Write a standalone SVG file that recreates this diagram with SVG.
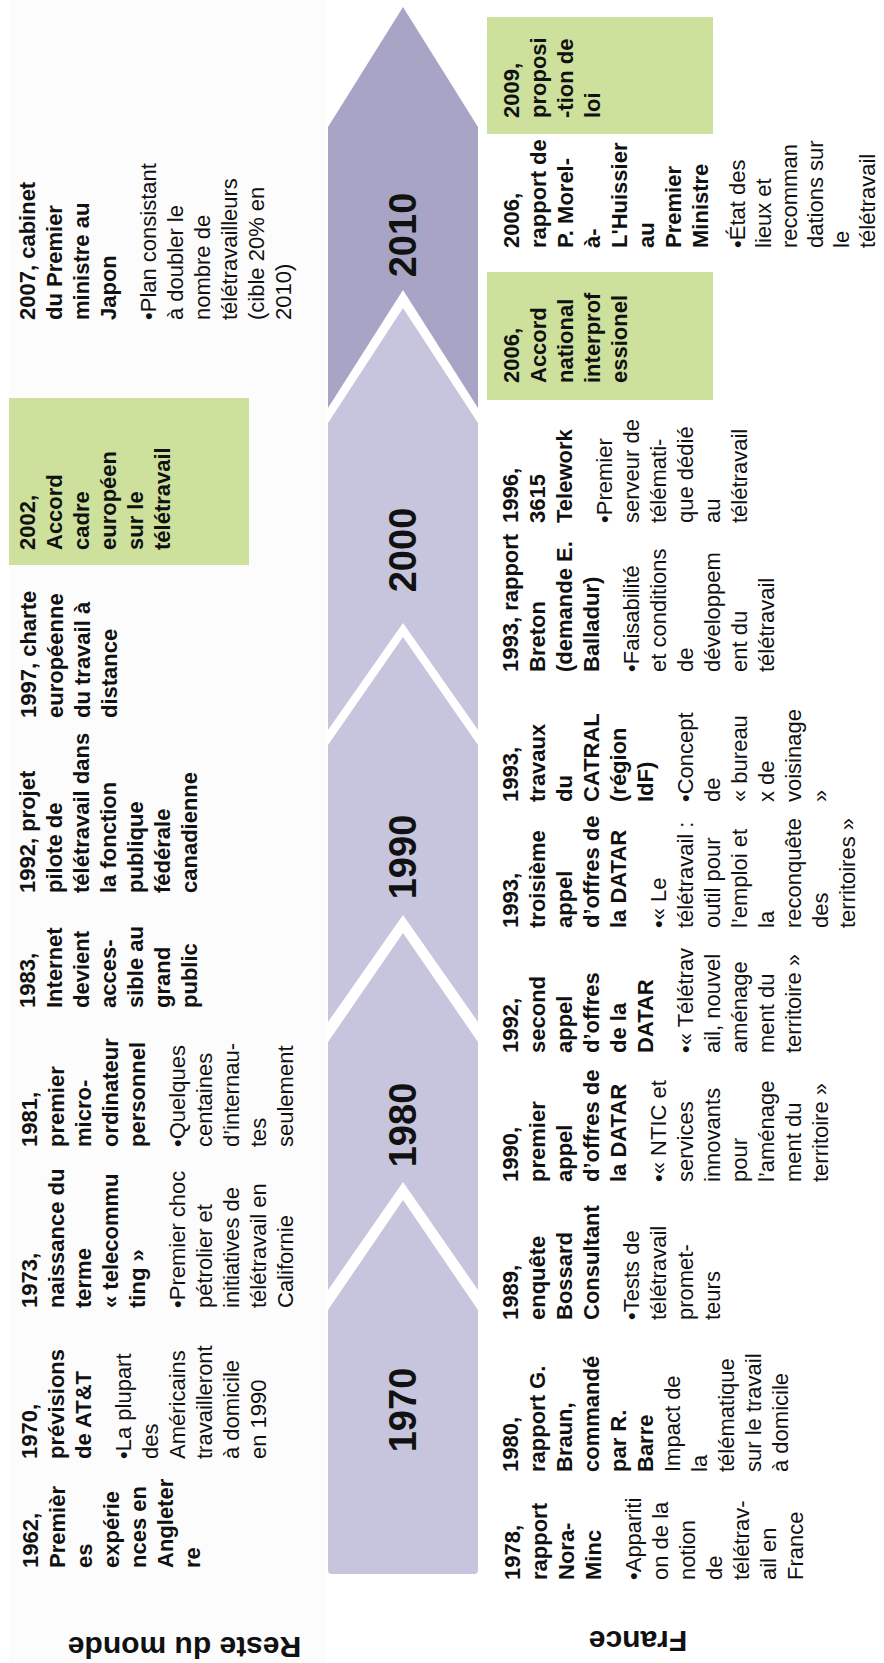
<svg xmlns="http://www.w3.org/2000/svg" width="884" height="1663" viewBox="0 0 884 1663">
<style>
.t{font-family:"Liberation Sans",Arial,sans-serif;font-size:22px;fill:#111}
.b{font-weight:bold}
.r{font-weight:normal}
.yr{font-family:"Liberation Sans",Arial,sans-serif;font-size:38px;font-weight:bold;fill:#111;text-anchor:middle}
.lbl{font-family:"Liberation Sans",Arial,sans-serif;font-size:30px;font-weight:bold;fill:#111;text-anchor:middle}
.seg{fill:#c7c5dd}
.dark{fill:#a8a4c6}
.green{fill:#cde09c}
</style>
<rect x="0" y="0" width="884" height="1663" fill="#ffffff"/>
<rect x="9" y="0" width="317" height="1663" fill="#fcfcfc"/>

<g id="timeline">
<g id="seg-2010"><path class="dark" d="M403,7 L478,127 L478,408 L403,290 L328,408 L328,127 Z"/><text class="yr" transform="translate(416,235) rotate(-90)">2010</text></g>
<g id="seg-2000"><path class="seg" d="M403,308 L478,423 L478,730 L403,623 L328,730 L328,423 Z"/><text class="yr" transform="translate(416,550) rotate(-90)">2000</text></g>
<g id="seg-1990"><path class="seg" d="M403,637 L478,745 L478,1022 L403,915 L328,1022 L328,745 Z"/><text class="yr" transform="translate(416,857) rotate(-90)">1990</text></g>
<g id="seg-1980"><path class="seg" d="M403,933 L478,1042 L478,1290 L403,1182 L328,1290 L328,1042 Z"/><text class="yr" transform="translate(416,1125) rotate(-90)">1980</text></g>
<g id="seg-1970"><path class="seg" d="M403,1200 L478,1310 L478,1570 Q478,1574 474,1574 L332,1574 Q328,1574 328,1570 L328,1310 Z"/><text class="yr" transform="translate(416,1410) rotate(-90)">1970</text></g>
</g>

<g id="label-rdm"><text class="lbl" transform="translate(184.5,1637) rotate(180)">Reste du monde</text></g>
<g id="label-france"><text class="lbl" transform="translate(638,1631) rotate(180)">France</text></g>

<g id="rdm-2007"><text class="t" transform="translate(35,320) rotate(-90)">
<tspan class="b" x="0" y="0">2007, cabinet</tspan><tspan class="b" x="0" y="27">du Premier</tspan><tspan class="b" x="0" y="54">ministre au</tspan><tspan class="b" x="0" y="81">Japon</tspan>
<tspan class="r" x="0" y="121">•Plan consistant</tspan><tspan class="r" x="0" y="148">à doubler le</tspan><tspan class="r" x="0" y="175">nombre de</tspan><tspan class="r" x="0" y="202">télétravailleurs</tspan><tspan class="r" x="0" y="229">(cible 20% en</tspan><tspan class="r" x="0" y="256">2010)</tspan>
</text></g>

<g id="rdm-2002"><rect class="green" x="9" y="398" width="240" height="167"/><text class="t b" transform="translate(35,550) rotate(-90)">
<tspan x="0" y="0">2002,</tspan><tspan x="0" y="27">Accord</tspan><tspan x="0" y="54">cadre</tspan><tspan x="0" y="81">européen</tspan><tspan x="0" y="108">sur le</tspan><tspan x="0" y="135">télétravail</tspan>
</text></g>

<g id="rdm-1997"><text class="t b" transform="translate(36,718) rotate(-90)">
<tspan x="0" y="0">1997, charte</tspan><tspan x="0" y="27">européenne</tspan><tspan x="0" y="54">du travail à</tspan><tspan x="0" y="81">distance</tspan>
</text></g>

<g id="rdm-1992"><text class="t b" transform="translate(35,893) rotate(-90)">
<tspan x="0" y="0">1992, projet</tspan><tspan x="0" y="27">pilote de</tspan><tspan x="0" y="54">télétravail dans</tspan><tspan x="0" y="81">la fonction</tspan><tspan x="0" y="108">publique</tspan><tspan x="0" y="135">fédérale</tspan><tspan x="0" y="162">canadienne</tspan>
</text></g>

<g id="rdm-1983"><text class="t b" transform="translate(35,1008) rotate(-90)">
<tspan x="0" y="0">1983,</tspan><tspan x="0" y="27">Internet</tspan><tspan x="0" y="54">devient</tspan><tspan x="0" y="81">acces-</tspan><tspan x="0" y="108">sible au</tspan><tspan x="0" y="135">grand</tspan><tspan x="0" y="162">public</tspan>
</text></g>

<g id="rdm-1981"><text class="t" transform="translate(37,1147) rotate(-90)">
<tspan class="b" x="0" y="0">1981,</tspan><tspan class="b" x="0" y="27">premier</tspan><tspan class="b" x="0" y="54">micro-</tspan><tspan class="b" x="0" y="81">ordinateur</tspan><tspan class="b" x="0" y="108">personnel</tspan>
<tspan class="r" x="0" y="148">•Quelques</tspan><tspan class="r" x="0" y="175">centaines</tspan><tspan class="r" x="0" y="202">d’internau-</tspan><tspan class="r" x="0" y="229">tes</tspan><tspan class="r" x="0" y="256">seulement</tspan>
</text></g>

<g id="rdm-1973"><text class="t" transform="translate(37,1308) rotate(-90)">
<tspan class="b" x="0" y="0">1973,</tspan><tspan class="b" x="0" y="27">naissance du</tspan><tspan class="b" x="0" y="54">terme</tspan><tspan class="b" x="0" y="81">« telecommu</tspan><tspan class="b" x="0" y="108">ting »</tspan>
<tspan class="r" x="0" y="148">•Premier choc</tspan><tspan class="r" x="0" y="175">pétrolier et</tspan><tspan class="r" x="0" y="202">initiatives de</tspan><tspan class="r" x="0" y="229">télétravail en</tspan><tspan class="r" x="0" y="256">Californie</tspan>
</text></g>

<g id="rdm-1970"><text class="t" transform="translate(37,1459) rotate(-90)">
<tspan class="b" x="0" y="0">1970,</tspan><tspan class="b" x="0" y="27">prévisions</tspan><tspan class="b" x="0" y="54">de AT&amp;T</tspan>
<tspan class="r" x="0" y="94">•La plupart</tspan><tspan class="r" x="0" y="121">des</tspan><tspan class="r" x="0" y="148">Américains</tspan><tspan class="r" x="0" y="175">travailleront</tspan><tspan class="r" x="0" y="202">à domicile</tspan><tspan class="r" x="0" y="229">en 1990</tspan>
</text></g>

<g id="rdm-1962"><text class="t b" transform="translate(38,1568) rotate(-90)">
<tspan x="0" y="0">1962,</tspan><tspan x="0" y="27">Premièr</tspan><tspan x="0" y="54">es</tspan><tspan x="0" y="81">expérie</tspan><tspan x="0" y="108">nces en</tspan><tspan x="0" y="135">Angleter</tspan><tspan x="0" y="162">re</tspan>
</text></g>

<g id="fr-2009"><rect class="green" x="487" y="17" width="226" height="117"/><text class="t b" transform="translate(519,118) rotate(-90)">
<tspan x="0" y="0">2009,</tspan><tspan x="0" y="27">proposi</tspan><tspan x="0" y="54">-tion de</tspan><tspan x="0" y="81">loi</tspan>
</text></g>

<g id="fr-2006-rapport"><text class="t" transform="translate(519,248) rotate(-90)">
<tspan class="b" x="0" y="0">2006,</tspan><tspan class="b" x="0" y="27">rapport de</tspan><tspan class="b" x="0" y="54">P. Morel-</tspan><tspan class="b" x="0" y="81">à-</tspan><tspan class="b" x="0" y="108">L'Huissier</tspan><tspan class="b" x="0" y="135">au</tspan><tspan class="b" x="0" y="162">Premier</tspan><tspan class="b" x="0" y="189">Ministre</tspan>
<tspan class="r" x="0" y="226">•État des</tspan><tspan class="r" x="0" y="252">lieux et</tspan><tspan class="r" x="0" y="278">recomman</tspan><tspan class="r" x="0" y="304">dations sur</tspan><tspan class="r" x="0" y="330">le</tspan><tspan class="r" x="0" y="356">télétravail</tspan>
</text></g>

<g id="fr-2006-accord"><rect class="green" x="487" y="272" width="226" height="128"/><text class="t b" transform="translate(519,383) rotate(-90)">
<tspan x="0" y="0">2006,</tspan><tspan x="0" y="27">Accord</tspan><tspan x="0" y="54">national</tspan><tspan x="0" y="81">interprof</tspan><tspan x="0" y="108">essionel</tspan>
</text></g>

<g id="fr-1996"><text class="t" transform="translate(518,523) rotate(-90)">
<tspan class="b" x="0" y="0">1996,</tspan><tspan class="b" x="0" y="27">3615</tspan><tspan class="b" x="0" y="54">Telework</tspan>
<tspan class="r" x="0" y="94">•Premier</tspan><tspan class="r" x="0" y="121">serveur de</tspan><tspan class="r" x="0" y="148">télémati-</tspan><tspan class="r" x="0" y="175">que dédié</tspan><tspan class="r" x="0" y="202">au</tspan><tspan class="r" x="0" y="229">télétravail</tspan>
</text></g>

<g id="fr-1993-breton"><text class="t" transform="translate(518,672) rotate(-90)">
<tspan class="b" x="0" y="0">1993, rapport</tspan><tspan class="b" x="0" y="27">Breton</tspan><tspan class="b" x="0" y="54">(demande E.</tspan><tspan class="b" x="0" y="81">Balladur)</tspan>
<tspan class="r" x="0" y="121">•Faisabilité</tspan><tspan class="r" x="0" y="148">et conditions</tspan><tspan class="r" x="0" y="175">de</tspan><tspan class="r" x="0" y="202">développem</tspan><tspan class="r" x="0" y="229">ent du</tspan><tspan class="r" x="0" y="256">télétravail</tspan>
</text></g>

<g id="fr-1993-catral"><text class="t" transform="translate(518,802) rotate(-90)">
<tspan class="b" x="0" y="0">1993,</tspan><tspan class="b" x="0" y="27">travaux</tspan><tspan class="b" x="0" y="54">du</tspan><tspan class="b" x="0" y="81">CATRAL</tspan><tspan class="b" x="0" y="108">(région</tspan><tspan class="b" x="0" y="135">IdF)</tspan>
<tspan class="r" x="0" y="175">•Concept</tspan><tspan class="r" x="0" y="202">de</tspan><tspan class="r" x="0" y="229">« bureau</tspan><tspan class="r" x="0" y="256">x de</tspan><tspan class="r" x="0" y="283">voisinage</tspan><tspan class="r" x="0" y="310">»</tspan>
</text></g>

<g id="fr-1993-datar"><text class="t" transform="translate(518,928) rotate(-90)">
<tspan class="b" x="0" y="0">1993,</tspan><tspan class="b" x="0" y="27">troisième</tspan><tspan class="b" x="0" y="54">appel</tspan><tspan class="b" x="0" y="81">d’offres de</tspan><tspan class="b" x="0" y="108">la DATAR</tspan>
<tspan class="r" x="0" y="148">•« Le</tspan><tspan class="r" x="0" y="175">télétravail :</tspan><tspan class="r" x="0" y="202">outil pour</tspan><tspan class="r" x="0" y="229">l’emploi et</tspan><tspan class="r" x="0" y="256">la</tspan><tspan class="r" x="0" y="283">reconquête</tspan><tspan class="r" x="0" y="310">des</tspan><tspan class="r" x="0" y="337">territoires »</tspan>
</text></g>

<g id="fr-1992"><text class="t" transform="translate(518,1053) rotate(-90)">
<tspan class="b" x="0" y="0">1992,</tspan><tspan class="b" x="0" y="27">second</tspan><tspan class="b" x="0" y="54">appel</tspan><tspan class="b" x="0" y="81">d’offres</tspan><tspan class="b" x="0" y="108">de la</tspan><tspan class="b" x="0" y="135">DATAR</tspan>
<tspan class="r" x="0" y="175">•« Télétrav</tspan><tspan class="r" x="0" y="202">ail, nouvel</tspan><tspan class="r" x="0" y="229">aménage</tspan><tspan class="r" x="0" y="256">ment du</tspan><tspan class="r" x="0" y="283">territoire »</tspan>
</text></g>

<g id="fr-1990"><text class="t" transform="translate(518,1182) rotate(-90)">
<tspan class="b" x="0" y="0">1990,</tspan><tspan class="b" x="0" y="27">premier</tspan><tspan class="b" x="0" y="54">appel</tspan><tspan class="b" x="0" y="81">d’offres de</tspan><tspan class="b" x="0" y="108">la DATAR</tspan>
<tspan class="r" x="0" y="148">•« NTIC et</tspan><tspan class="r" x="0" y="175">services</tspan><tspan class="r" x="0" y="202">innovants</tspan><tspan class="r" x="0" y="229">pour</tspan><tspan class="r" x="0" y="256">l’aménage</tspan><tspan class="r" x="0" y="283">ment du</tspan><tspan class="r" x="0" y="310">territoire »</tspan>
</text></g>

<g id="fr-1989"><text class="t" transform="translate(518,1320) rotate(-90)">
<tspan class="b" x="0" y="0">1989,</tspan><tspan class="b" x="0" y="27">enquête</tspan><tspan class="b" x="0" y="54">Bossard</tspan><tspan class="b" x="0" y="81">Consultant</tspan>
<tspan class="r" x="0" y="121">•Tests de</tspan><tspan class="r" x="0" y="148">télétravail</tspan><tspan class="r" x="0" y="175">promet-</tspan><tspan class="r" x="0" y="202">teurs</tspan>
</text></g>

<g id="fr-1980"><text class="t" transform="translate(518,1472) rotate(-90)">
<tspan class="b" x="0" y="0">1980,</tspan><tspan class="b" x="0" y="27">rapport G.</tspan><tspan class="b" x="0" y="54">Braun,</tspan><tspan class="b" x="0" y="81">commandé</tspan><tspan class="b" x="0" y="108">par R.</tspan><tspan class="b" x="0" y="135">Barre</tspan>
<tspan class="r" x="0" y="162">Impact de</tspan><tspan class="r" x="0" y="189">la</tspan><tspan class="r" x="0" y="216">télématique</tspan><tspan class="r" x="0" y="243">sur le travail</tspan><tspan class="r" x="0" y="270">à domicile</tspan>
</text></g>

<g id="fr-1978"><text class="t" transform="translate(520,1580) rotate(-90)">
<tspan class="b" x="0" y="0">1978,</tspan><tspan class="b" x="0" y="27">rapport</tspan><tspan class="b" x="0" y="54">Nora-</tspan><tspan class="b" x="0" y="81">Minc</tspan>
<tspan class="r" x="0" y="121">•Appariti</tspan><tspan class="r" x="0" y="148">on de la</tspan><tspan class="r" x="0" y="175">notion</tspan><tspan class="r" x="0" y="202">de</tspan><tspan class="r" x="0" y="229">télétrav-</tspan><tspan class="r" x="0" y="256">ail en</tspan><tspan class="r" x="0" y="283">France</tspan>
</text></g>
</svg>
